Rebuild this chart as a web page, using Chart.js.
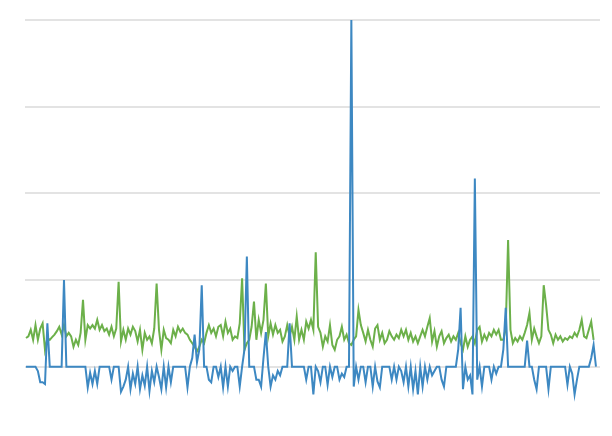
<!DOCTYPE html>
<html>
<head>
<meta charset="utf-8">
<script src="https://cdn.jsdelivr.net/npm/chart.js@4/dist/chart.umd.min.js"></script>
<style>
  html, body { margin: 0; padding: 0; background: #fff; }
  #wrap { width: 612px; height: 436px; position: relative; }
</style>
</head>
<body>
<div id="wrap"><canvas id="lineChart"></canvas></div>
<script>
// values, one per sample
const blueSeries = [
    0, 0, 0, 0, 0, -5, -18, -18, -20, 50,
    0, 0, 0, 0, 0, 0, 100, 0, 0, 0, 0,
    0, 0, 0, 0, 0, -24, -7, -20, -5, -20,
    0, 0, 0, 0, 0, -15, 0, 0, 0, -29,
    -23, -15, 0, -26, -8, -20, 0, -26, -10, -22,
    0, -28, -5, -18, 0, -12, -26, 0, -24, 0,
    -18, 0, 0, 0, 0, 0, 0, -24, 0, 10, 37,
    5, 20, 94, 0, 0, -15, -18, 0, 0, -12,
    0, -24, 0, -23, 0, -5, 0, 0, -23, 0,
    20, 127, 0, 0, 0, -15, -15, -23, 10, 40,
    0, -23, -10, -15, -5, -10, 0, 0, 0, 50,
    0, 0, 0, 0, 0, 0, -15, 0, 0, -32,
    0, -5, -18, 0, 0, -21, 0, -12, 0, 0,
    -15, -8, -12, 0, 0, 401, -23, 0, -15, 0,
    0, -18, 0, 0, -23, 0, -17, -24, 0, 0,
    0, 0, -15, 0, -15, 0, -5, -18, 0,
    -23, 0, -26, -5, -32, 0, -23, 0, -15,
    0, -10, -5, 0, 0, -15, -23, 0, 0, 0,
    0, 0, 20, 68, -26, 0, -15, -10, -32, 217,
    -15, 0, -23, 0, 0, 0, -15, 0, -8, 0,
    0,
    20, 68, 0, 0, 0, 0, 0, 0, 0, 0,
    30, 0, 0, -15, -26, 0, 0, 0, 0, -26,
    0, 0, 0, 0, 0, 0, 0, -21, 0, -8,
    -32, -15, 0, 0, 0, 0, 0, 10, 25, 0
];

const greenSeries = [
    33, 35, 42.5, 31, 48, 31, 44, 50, 19.5, 33,
    31, 34, 37, 41, 46, 37, 48, 35, 39, 35, 23,
    31, 25, 39, 77, 31, 48, 44, 48, 44, 54,
    42.5, 48, 41, 44, 37, 46, 35, 44, 98, 29,
    42.5, 31, 44, 37, 46, 41, 29, 42.5, 19.5, 39,
    31, 35, 27, 44, 96, 42.5, 19.5, 42.5, 33, 31,
    27, 42.5, 35, 46, 40, 44, 39, 37, 31, 27, 23,
    17.6, 23, 31, 27, 39, 48, 39, 44, 35, 46,
    48, 35, 52, 39, 44, 31, 35, 33, 50, 102,
    19.5, 27, 31, 46, 75, 31, 54, 39, 54, 96,
    35, 50, 37, 48, 39, 42.5, 29, 35, 48, 35,
    46, 31, 58, 31, 42.5, 31, 52, 44, 54, 42.5,
    132, 46, 39, 23, 35, 29, 48, 25, 19.5, 31,
    35, 46, 31, 37, 27, 25, 31, 35, 65.5, 48,
    39, 29, 42.5, 31, 23, 44, 48, 31, 39, 27,
    31, 41, 35, 31, 37, 33, 42.5, 35, 42.5,
    31, 39, 29, 35, 27, 35, 42.5, 35, 46,
    56, 29, 41, 23, 35, 41, 27, 33, 37, 29,
    35, 31, 39, 27, 19.5, 35, 23, 31, 35, 27,
    42.5, 46, 29, 37, 31, 39, 35, 42.5, 37, 42.5,
    31,
    31, 44, 146, 42.5, 27, 33, 29, 35, 31, 39,
    48, 62, 31, 44, 35, 27, 35, 94, 71, 42.5,
    37, 27, 37, 31, 35, 29, 33, 31, 35, 33,
    39, 35, 42.5, 54, 35, 33, 42.5, 52, 31, null
];

const samples = blueSeries.map((v, i) => i);
const yTicks = [0, 100, 200, 300, 400];

const lineChart = new Chart(document.getElementById("lineChart"), {
    type: "line",
    data: {
        labels: samples,
        datasets: [
            {
                data: blueSeries,
                borderColor: "#3d88c2",
                borderWidth: 2,
                pointRadius: 0,
                tension: 0
            },
            {
                data: greenSeries,
                borderColor: "#6cb04a",
                borderWidth: 2,
                pointRadius: 0,
                tension: 0
            }
        ]
    },
    options: {
        responsive: true,
        maintainAspectRatio: false,
        animation: false,
        plugins: { legend: { display: false }, tooltip: { enabled: false } },
        layout: {
            padding: { top: 20, left: 25, right: 12, bottom: 0 }
        },
        scales: {
            x: {
                type: "linear",
                display: false,
                min: -0.42,
                max: 241.7
            },
            y: {
                min: -80,
                max: 400,
                afterBuildTicks: axis => { axis.ticks = yTicks.map(v => ({ value: v })); },
                grid: { color: "#e3e3e3", lineWidth: 2, drawTicks: false },
                border: { display: false },
                ticks: { display: false }
            }
        }
    }
});
</script>
</body>
</html>
